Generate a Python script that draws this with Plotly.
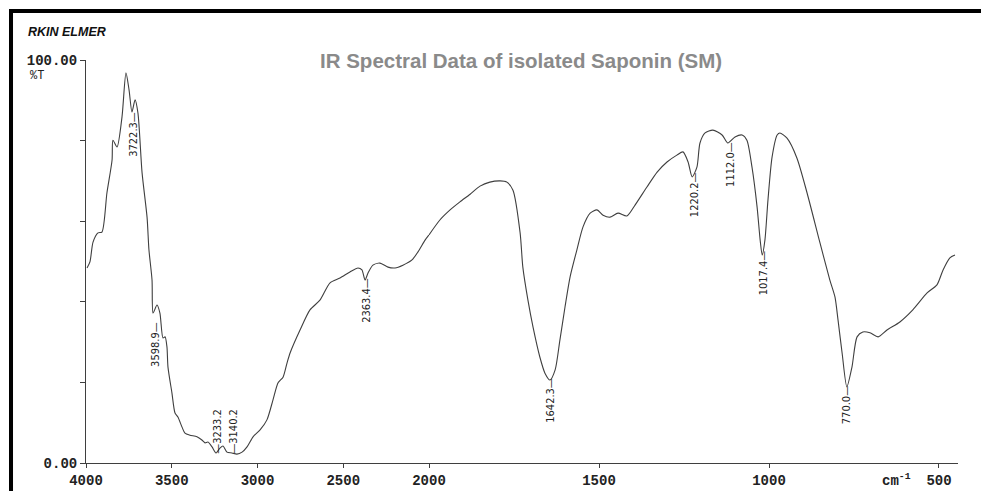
import plotly.graph_objects as go

# ---- data (wavenumber cm-1, %T) ----
wn_high = [3994, 3977, 3959, 3930, 3907, 3878, 3848, 3843, 3819, 3790, 3767, 3749, 3732, 3714,
           3697, 3673, 3644, 3633, 3615, 3609, 3586, 3569, 3551, 3539, 3528, 3522, 3499, 3481,
           3464, 3440, 3423, 3394, 3353, 3324, 3306, 3289, 3265, 3242, 3219, 3201, 3178, 3149,
           3120, 3090, 3061, 3026, 2985, 2945, 2910, 2880, 2851, 2828, 2810, 2752, 2694, 2636,
           2577, 2519, 2461, 2414, 2391, 2373, 2356, 2327, 2286, 2239, 2198, 2152, 2099, 2064,
           2023, 2000]
t_high = [48.4, 49.9, 54.8, 57.1, 57.3, 67.0, 75.2, 80.1, 78.4, 85.9, 96.8, 92.6, 87.1, 90.1,
          86.8, 72.0, 61.0, 52.9, 45.4, 37.2, 39.2, 37.2, 31.0, 31.3, 28.8, 23.8, 17.4, 12.4,
          11.4, 8.9, 7.4, 6.9, 6.5, 5.7, 5.0, 5.2, 4.0, 2.5, 3.7, 4.2, 2.7, 2.5,
          2.2, 2.7, 4.0, 6.5, 8.2, 10.7, 15.6, 19.9, 21.3, 24.8, 27.3, 33.0, 38.0, 40.4,
          44.7, 45.9, 47.4, 48.4, 47.9, 45.4, 47.1, 49.1, 49.6, 48.6, 48.4, 49.1, 50.4, 52.4,
          55.3, 56.6]

wn_low = [2000, 1968, 1938, 1909, 1879, 1850, 1821, 1791, 1771, 1753, 1732, 1724, 1709, 1694,
          1674, 1659, 1644, 1629, 1615, 1600, 1585, 1565, 1547, 1526, 1506, 1488, 1468, 1444,
          1418, 1394, 1359, 1329, 1300, 1271, 1253, 1238, 1226, 1212, 1203, 1188, 1165, 1138,
          1121, 1100, 1079, 1065, 1050, 1035, 1026, 1020, 1012, 1003, 991, 976, 968, 947, 918,
          888, 850, 821, 806, 797, 785, 771, 756, 741, 724, 703, 679, 653, 615, 577, 535, 506,
          488, 468, 453]
t_low = [56.6, 60.3, 62.8, 64.8, 66.7, 68.7, 69.7, 70.0, 69.7, 67.7, 57.1, 48.6, 40.4, 33.7,
         26.3, 22.3, 20.6, 23.1, 30.5, 38.7, 46.2, 52.9, 58.6, 62.0, 62.8, 61.5, 61.0, 62.0,
         61.3, 64.0, 68.5, 72.2, 74.7, 76.4, 77.2, 74.7, 71.0, 73.4, 79.4, 81.9, 82.6, 81.4,
         79.4, 80.9, 81.4, 80.1, 73.4, 63.5, 55.3, 51.6, 55.3, 65.3, 75.9, 81.4, 81.9, 80.6, 75.7,
         67.0, 54.6, 45.4, 41.2, 35.5, 27.3, 18.9, 23.8, 31.3, 32.5, 32.3, 31.3, 33.0, 35.0, 38.0,
         42.2, 44.2, 47.9, 50.9, 51.6]

peak_wn = [3722.3, 3598.9, 3233.2, 3140.2, 2363.4, 1642.3, 1220.2, 1112.0, 1017.4, 770.0]
peak_text = ["3722.3\u2014", "3598.9\u2014", "\u20143233.2", "\u20143140.2", "2363.4\u2014",
             "1642.3\u2014", "1220.2\u2014", "1112.0\u2014", "1017.4\u2014", "770.0\u2014"]
peak_label_t = [81.6, 29.5, 7.9, 7.9, 40.4, 15.6, 66.5, 74.2, 47.1, 14.4]

x_ticks_high = [4000, 3500, 3000, 2500, 2000]
x_ticks_low = [1500, 1000, 500]
y_ticks = [0, 20, 40, 60, 80, 100]
y_ticktext = ["0.00", "", "", "", "", "100.00"]

LINE = "#3f3f3f"
MONO = dict(family="Liberation Mono, DejaVu Sans Mono, monospace", size=14, color="#222222", weight="bold")

fig = go.Figure()
fig.add_trace(go.Scatter(x=wn_high, y=t_high, mode="lines", xaxis="x", yaxis="y",
                         line=dict(color=LINE, width=1.1, shape="spline", smoothing=0.7),
                         showlegend=False, hoverinfo="skip"))
fig.add_trace(go.Scatter(x=wn_low, y=t_low, mode="lines", xaxis="x2", yaxis="y",
                         line=dict(color=LINE, width=1.1, shape="spline", smoothing=0.7),
                         showlegend=False, hoverinfo="skip"))

split = 343 / 872
axis_common = dict(ticks="outside", ticklen=4, tickcolor=LINE, showline=True, linecolor=LINE,
                   linewidth=1, showgrid=False, zeroline=False, tickfont=MONO, anchor="y",
                   automargin=False)
fig.update_layout(
    width=981, height=491,
    margin=dict(l=86, r=23, t=60, b=28, autoexpand=False),
    paper_bgcolor="white", plot_bgcolor="white",
    xaxis=dict(domain=[0, split], range=[4000, 2000], tickvals=x_ticks_high, **axis_common),
    xaxis2=dict(domain=[split, 1], range=[2000, 444.1], tickvals=x_ticks_low, **axis_common),
    yaxis=dict(range=[0, 100], tickvals=y_ticks, ticktext=y_ticktext, ticks="outside",
               ticklen=5, tickcolor=LINE, showline=True, linecolor=LINE, linewidth=1,
               showgrid=False, zeroline=False, tickfont=MONO, automargin=False),
)

LABEL_FONT = dict(family="Liberation Sans Narrow, DejaVu Sans Condensed, Roboto Condensed, sans-serif",
                  size=11, color="#222222")
for w, txt, t in zip(peak_wn, peak_text, peak_label_t):
    fig.add_annotation(x=w, y=t, xref="x" if w > 2000 else "x2", yref="y", text=txt,
                       textangle=-90, showarrow=False, font=LABEL_FONT,
                       xanchor="center", yanchor="middle")

fig.add_annotation(x=0.499, y=1.0, xref="paper", yref="paper",
                   text="IR Spectral Data of isolated Saponin (SM)", showarrow=False,
                   font=dict(family="Liberation Sans, Arial, sans-serif", size=20.5,
                             color="#8a8a8a", weight="bold"),
                   xanchor="center", yanchor="middle")
fig.add_annotation(x=-0.0218, y=1.0695, xref="paper", yref="paper", text="<b><i>RKIN ELMER</i></b>",
                   showarrow=False, font=dict(family="Liberation Sans, Arial, sans-serif", size=12.5,
                                              color="#111111"),
                   xanchor="center", yanchor="middle")
fig.add_annotation(x=-0.0562, y=0.960, xref="paper", yref="paper", text="%T", showarrow=False,
                   font=dict(family="Liberation Mono, DejaVu Sans Mono, monospace", size=12,
                             color="#222222"), xanchor="center", yanchor="middle")
fig.add_annotation(x=0.930, y=-0.042, xref="paper", yref="paper", text="cm<sup>-1</sup>",
                   showarrow=False, font=MONO, xanchor="center", yanchor="middle")

# page frame (thick black border, left and top)
fig.add_shape(type="rect", xref="paper", yref="paper", x0=-0.0883, x1=-0.0837, y0=-0.0695,
              y1=1.1266, fillcolor="black", line_width=0, layer="above")
fig.add_shape(type="rect", xref="paper", yref="paper", x0=-0.0883, x1=1.0264, y0=1.1166,
              y1=1.1266, fillcolor="black", line_width=0, layer="above")

fig.write_html("out.html")
